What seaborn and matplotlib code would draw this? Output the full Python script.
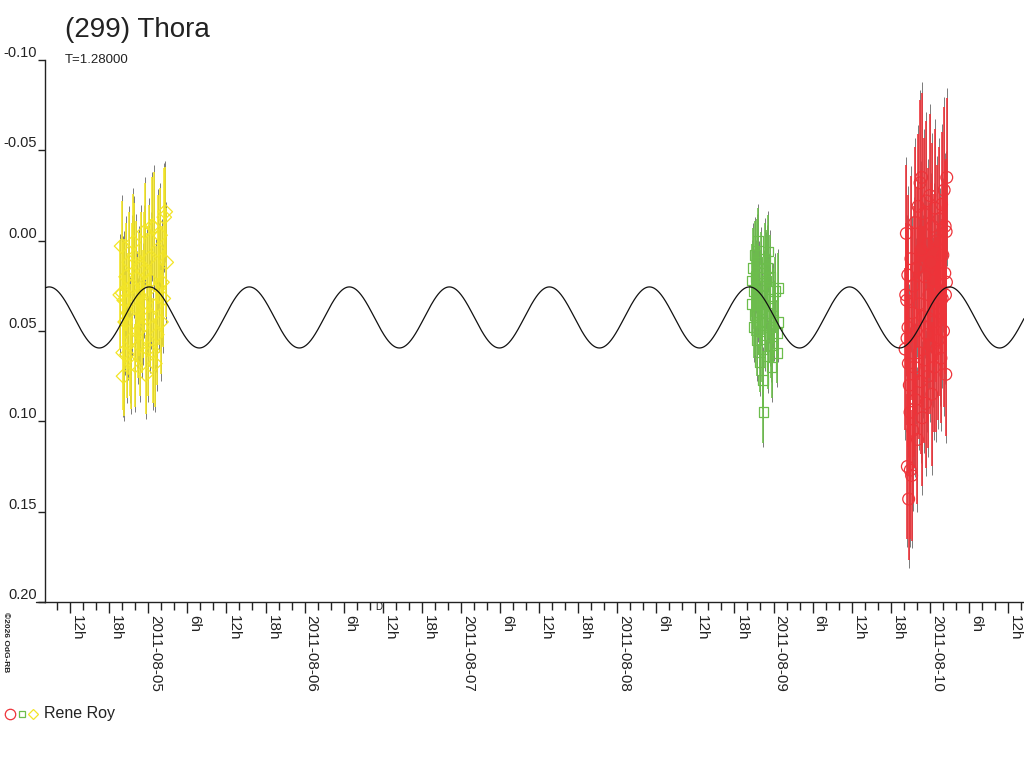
#!/usr/bin/env python3
"""
Lightcurve of (299) Thora: three sessions by Rene Roy with a two-peak model curve.
"""

import numpy as np
import pandas as pd
import matplotlib
matplotlib.use("Agg")
import matplotlib.pyplot as plt
from matplotlib.lines import Line2D
import seaborn as sns

# time axis: hours after 2011-08-05 00:00 UT
session_yellow_t = [-4.3, -4.1, -3.95, -3.85, -3.8, -3.7, -3.55, -3.4, -3.27, -3.1,
                    -2.9, -2.75, -2.6, -2.45, -2.3, -2.15, -2.0, -1.85, -1.7, -1.55,
                    -1.45, -1.3, -1.15, -1.0, -0.85, -0.7, -0.55, -0.4, -0.2, -0.05,
                    0.1, 0.25, 0.4, 0.57, 0.7, 0.85, 1.0, 1.15, 1.3, 1.45,
                    1.6, 1.8, 1.95, 2.1, 2.3, 2.45, 2.6, 2.75]
session_yellow_mag = [0.030, 0.003, 0.029, 0.062, 0.075, 0.033, 0.045, 0.020, 0.063, 0.040,
                      0.012, 0.055, 0.068, 0.025, 0.001, 0.009, 0.069, 0.021, 0.038, 0.050,
                      0.030, 0.058, 0.015, 0.048, 0.035, 0.017, -0.005, 0.074, 0.028, 0.060,
                      0.010, 0.042, 0.022, -0.008, 0.061, -0.007, 0.068, 0.036, 0.052, 0.005,
                      0.026, -0.003, 0.045, 0.023, 0.032, -0.013, -0.016, 0.012]
session_yellow_err = [0.030, 0.025, 0.028, 0.032, 0.022, 0.034, 0.026, 0.030, 0.024, 0.033,
                      0.028, 0.031, 0.025, 0.035, 0.027, 0.030, 0.023, 0.032, 0.029, 0.026,
                      0.034, 0.028, 0.031, 0.025, 0.030, 0.033, 0.027, 0.022, 0.032, 0.026,
                      0.030, 0.028, 0.034, 0.027, 0.029, 0.031, 0.024, 0.033, 0.028, 0.030,
                      0.032, 0.026, 0.029, 0.031, 0.027, 0.027, 0.025, 0.030]

session_green_t = [92.65, 92.75, 92.85, 92.95, 93.05, 93.15, 93.20, 93.30, 93.40, 93.50,
                   93.60, 93.66, 93.75, 93.85, 93.95, 94.00, 94.10, 94.20, 94.30, 94.40,
                   94.45, 94.55, 94.65, 94.75, 94.85, 94.95, 95.05, 95.15, 95.20, 95.30,
                   95.40, 95.50, 95.60, 95.70, 95.85, 96.00, 96.20, 96.50, 96.55, 96.70,
                   96.74]
session_green_mag = [0.022, 0.035, 0.015, 0.048, 0.028, 0.008, 0.041, 0.020, 0.055, 0.012,
                     0.035, 0.000, 0.025, 0.045, 0.067, 0.050, 0.018, 0.038, 0.060, 0.077,
                     0.095, 0.030, 0.010, 0.052, 0.022, 0.040, 0.015, 0.006, 0.064, 0.032,
                     0.048, 0.020, 0.058, 0.070, 0.036, 0.044, 0.028, 0.051, 0.062, 0.045,
                     0.026]
session_green_err = [0.020, 0.018, 0.022, 0.017, 0.021, 0.019, 0.023, 0.018, 0.020, 0.024,
                     0.019, 0.018, 0.022, 0.020, 0.017, 0.021, 0.023, 0.019, 0.018, 0.016,
                     0.017, 0.022, 0.020, 0.018, 0.024, 0.019, 0.021, 0.020, 0.018, 0.022,
                     0.019, 0.023, 0.018, 0.017, 0.021, 0.020, 0.019, 0.018, 0.017, 0.020,
                     0.019]

session_red_t = [116.20, 116.30, 116.40, 116.45, 116.50, 116.55, 116.62, 116.65, 116.70, 116.75,
                 116.85, 116.96, 117.00, 117.10, 117.20, 117.30, 117.40, 117.50, 117.60, 117.70,
                 117.80, 117.90, 118.00, 118.10, 118.20, 118.30, 118.40, 118.50, 118.60, 118.70,
                 118.75, 118.85, 118.95, 119.05, 119.15, 119.25, 119.35, 119.45, 119.55, 119.65,
                 119.75, 119.85, 120.00, 120.10, 120.20, 120.30, 120.40, 120.50, 120.60, 120.70,
                 120.80, 120.90, 121.00, 121.10, 121.20, 121.30, 121.40, 121.50, 121.60, 121.70,
                 121.80, 121.90, 122.00, 122.10, 122.20, 122.30, 122.35, 122.40, 122.45, 122.50,
                 122.55, 122.60]
session_red_mag = [0.060, 0.030, -0.004, 0.033, 0.054, 0.125, 0.019, 0.048, 0.068, 0.143,
                   0.080, 0.095, 0.127, 0.010, 0.130, 0.040, 0.105, 0.025, 0.070, -0.010,
                   0.088, 0.050, 0.015, 0.110, -0.019, 0.062, 0.035, -0.032, 0.078, 0.005,
                   -0.035, 0.098, 0.042, -0.015, 0.066, 0.020, 0.090, -0.022, 0.052, 0.002,
                   0.075, 0.030, -0.025, 0.058, 0.012, 0.085, -0.008, 0.045, 0.022, 0.070,
                   -0.018, 0.038, 0.060, 0.000, 0.028, 0.055, -0.012, 0.040, 0.018, 0.065,
                   -0.020, 0.032, 0.008, 0.050, -0.028, 0.018, -0.008, 0.030, 0.074, -0.005,
                   0.023, -0.035]
session_red_err = [0.045, 0.040, 0.038, 0.042, 0.048, 0.040, 0.044, 0.036, 0.046, 0.034,
                   0.050, 0.042, 0.038, 0.046, 0.036, 0.048, 0.040, 0.044, 0.050, 0.042,
                   0.038, 0.046, 0.044, 0.036, 0.040, 0.048, 0.042, 0.046, 0.040, 0.044,
                   0.047, 0.038, 0.050, 0.042, 0.046, 0.040, 0.036, 0.044, 0.048, 0.042,
                   0.040, 0.046, 0.045, 0.038, 0.044, 0.040, 0.046, 0.042, 0.048, 0.036,
                   0.044, 0.040, 0.046, 0.042, 0.038, 0.044, 0.040, 0.046, 0.042, 0.036,
                   0.040, 0.044, 0.038, 0.042, 0.046, 0.040, 0.036, 0.044, 0.034, 0.040,
                   0.038, 0.044]

# model: two-peak curve, T = 1.28 d
period_days = 1.28
model_mean = 0.0425
model_amp = 0.0169
model_t0 = 0.15  # hours, time of a brightness maximum

x_min, x_max = -15.86, 134.46
y_ticks = [-0.10, -0.05, 0.00, 0.05, 0.10, 0.15, 0.20]
day_names = ["2011-08-04", "2011-08-05", "2011-08-06", "2011-08-07",
             "2011-08-08", "2011-08-09", "2011-08-10"]

YELLOW = "#f3e526"
GREEN = "#6cbd4c"
RED = "#ee3339"
GRAY = "#7a7a7a"
INK = "#222222"

sns.set_style("ticks")
plt.rcParams["font.family"] = ["Liberation Sans", "DejaVu Sans"]

fig = plt.figure(figsize=(10.24, 7.68), dpi=100)
W, H = 1024.0, 768.0
ax = fig.add_axes([45 / W, 1 - 602 / H, 979 / W, 542 / H])

# model curve
t_model = np.linspace(x_min, x_max, 3000)
half_period_h = period_days * 24 / 2
model = pd.DataFrame({
    "t": t_model,
    "mag": model_mean - model_amp * np.cos(2 * np.pi * (t_model - model_t0) / half_period_h),
})
sns.lineplot(data=model, x="t", y="mag", color="#111111", linewidth=0.9,
             estimator=None, ax=ax, zorder=4)

sessions = [
    (session_yellow_t, session_yellow_mag, session_yellow_err, YELLOW, "D", 55),
    (session_green_t, session_green_mag, session_green_err, GREEN, "s", 50),
    (session_red_t, session_red_mag, session_red_err, RED, "o", 72),
]
for t, mag, err, col, mk, size in sessions:
    err = np.array(err)
    ax.errorbar(t, mag, yerr=err * 1.12, fmt="none", ecolor=GRAY, elinewidth=0.7,
                capsize=0, zorder=1)
    sns.scatterplot(x=t, y=mag, marker=mk, s=size, color=col, facecolor="none",
                    edgecolor=col, linewidth=0.9, ax=ax, zorder=2, legend=False)
    ax.errorbar(t, mag, yerr=err, fmt="none", ecolor=col, elinewidth=1.2,
                capsize=0, zorder=3)

ax.set_xlim(x_min, x_max)
ax.set_ylim(0.20, -0.10)
ax.set_xlabel("")
ax.set_ylabel("")
sns.despine(ax=ax)
for side in ["left", "bottom"]:
    ax.spines[side].set_color(INK)
    ax.spines[side].set_linewidth(1.0)

# x ticks: labels every 6 h, small ticks every 2 h
major = np.arange(-12, 133, 6)
labels = []
for h in major:
    if h % 24 == 0:
        labels.append(day_names[int(h // 24) + 1])
    else:
        labels.append(f"{int(h % 24)}h")
minor = [h for h in np.arange(-14, 135, 2) if h % 6 != 0]
ax.set_xticks(major)
ax.set_xticklabels(labels)
ax.set_xticks(minor, minor=True)
ax.tick_params(axis="x", which="major", length=8, width=1, color=INK, pad=1.5,
               labelsize=11, labelcolor=INK, direction="out")
ax.tick_params(axis="x", which="minor", length=5.8, width=1, color=INK, direction="out")
for lab in ax.get_xticklabels():
    lab.set_rotation(-90)
    lab.set_horizontalalignment("left")
    lab.set_verticalalignment("top")

ax.set_yticks(y_ticks)
ax.set_yticklabels([f"{v:.2f}" for v in y_ticks])
ax.tick_params(axis="y", length=5, width=1, color=INK, pad=1,
               labelsize=10.5, labelcolor=INK, direction="out")
for lab in ax.get_yticklabels():
    lab.set_verticalalignment("bottom")

# little overhang of the time axis on the left
fig.add_artist(Line2D([36 / W, 45 / W], [1 - 602 / H, 1 - 602 / H],
                      color=INK, linewidth=1.0))

fig.text(65 / W, 1 - 37 / H, "(299) Thora", fontsize=20, color=INK, va="baseline")
fig.text(65 / W, 1 - 63 / H, "T=1.28000", fontsize=9.5, color=INK, va="baseline")
fig.text(375 / W, 1 - 606.5 / H, "D", fontsize=7, color=INK, va="center")
fig.text(2 / W, 1 - 612 / H, "\u00a92026 OdG-RB", fontsize=6, fontweight="bold",
         rotation=-90, color=INK, ha="left", va="top")

# observer key
key_y = 1 - 713.5 / H
fig.add_artist(Line2D([9.5 / W], [key_y], marker="o", markersize=7.5, mfc="none",
                      mec=RED, mew=0.9, linestyle="none"))
fig.add_artist(Line2D([21.5 / W], [key_y], marker="s", markersize=5, mfc="none",
                      mec=GREEN, mew=0.9, linestyle="none"))
fig.add_artist(Line2D([33 / W], [key_y], marker="D", markersize=5.5, mfc="none",
                      mec=YELLOW, mew=0.9, linestyle="none"))
fig.text(44 / W, 1 - 718 / H, "Rene Roy", fontsize=11.5, color=INK, va="baseline")

fig.savefig("out.png", dpi=100)
